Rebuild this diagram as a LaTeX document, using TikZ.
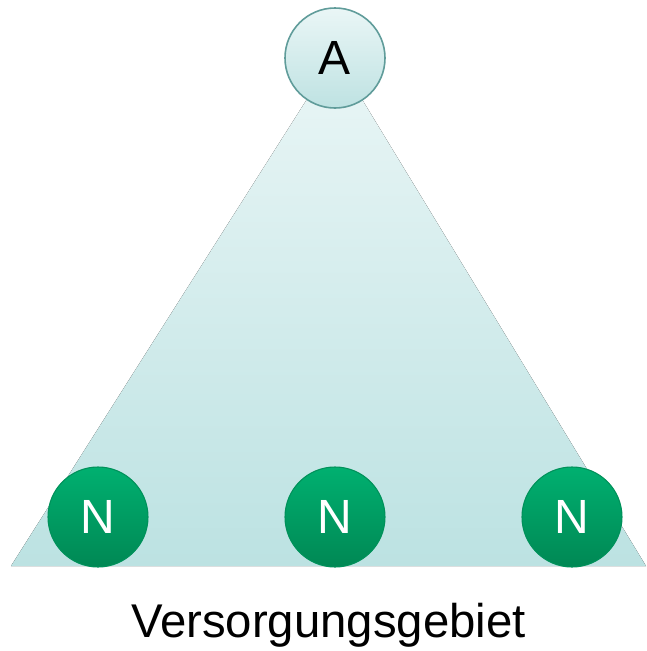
\documentclass[tikz,border=0pt]{standalone}
\usepackage{fontspec}
\setmainfont{Liberation Sans}
\usepackage{tikz}
\usetikzlibrary{positioning}
\usetikzlibrary{calc}

\definecolor{areatop}{RGB}{234,246,246}
\definecolor{areabot}{RGB}{188,226,226}
\definecolor{aTop}{RGB}{234,246,246}
\definecolor{aBot}{RGB}{190,226,226}
\definecolor{aRim}{RGB}{96,156,154}
\definecolor{nTop}{RGB}{0,176,112}
\definecolor{nBot}{RGB}{0,136,84}
\definecolor{nRim}{RGB}{0,145,90}

\tikzset{
  anode/.style={circle, minimum size=100*0.75pt, inner sep=0pt, draw=aRim, line width=1.2pt,
    top color=aTop, bottom color=aBot, font=\fontsize{36}{40}\selectfont, text=black},
  nnode/.style={circle, minimum size=100*0.75pt, inner sep=0pt, draw=nRim, line width=0.8pt,
    top color=nTop, bottom color=nBot, font=\fontsize{36}{40}\selectfont, text=white}
}

\begin{document}
\begin{tikzpicture}[x=0.75pt,y=0.75pt,yscale=-1,xscale=1]
\useasboundingbox (0,0) rectangle (647,651);

%Apex and base of the area
\coordinate (top) at (335,55);
\coordinate (bl) at (11,566);
\coordinate (br) at (646,566);

%Shape: Triangle
\fill [top color=areatop, bottom color=areabot] (top) -- (bl) -- (br) -- cycle;

% Circle A
\node [anode] (A) at (335,58) {A};
% Circles N
\node [nnode] (N1) at (98,517) {N};
\node [nnode] (N2) at (335,517) {N};
\node [nnode] (N3) at (572,517) {N};

% Text Node
\node [font=\fontsize{35.5}{40}\selectfont, anchor=base] (area) at (328.5,637) {Versorgungsgebiet};

\end{tikzpicture}
\end{document}
